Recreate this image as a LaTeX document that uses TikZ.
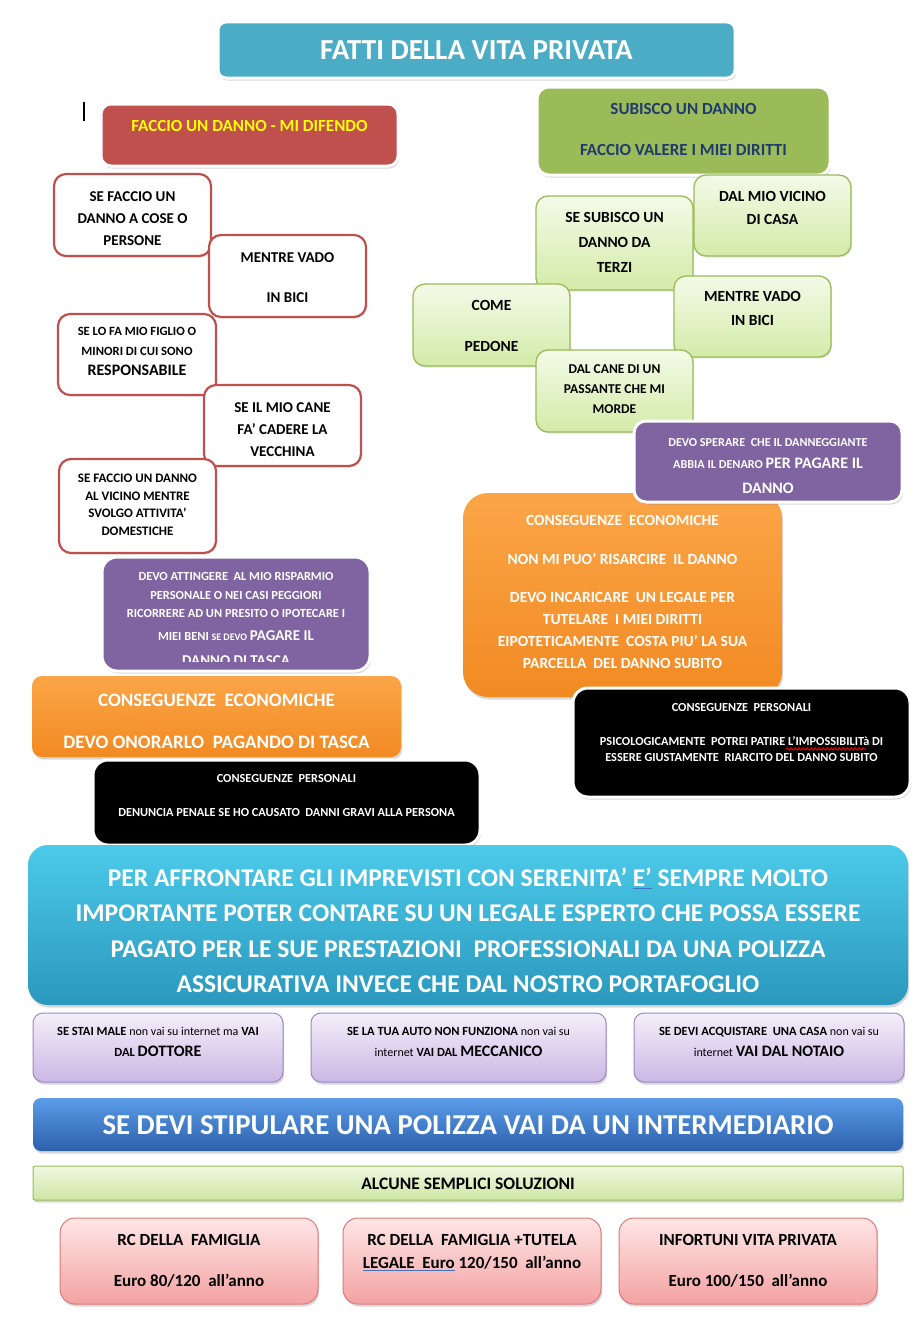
\documentclass[tikz,border=0pt]{standalone}
\usepackage{fontspec}
\setmainfont{Carlito}
\usetikzlibrary{shadows,decorations.pathmorphing}
\definecolor{tealT}{HTML}{4BACC6}
\definecolor{redH}{HTML}{C0504D}
\definecolor{greenH}{HTML}{9BBB59}
\definecolor{navyT}{HTML}{1F3B6E}
\definecolor{lgTop}{HTML}{F4FAE8}
\definecolor{lgBot}{HTML}{D3EBA8}
\definecolor{purp}{HTML}{8064A2}
\definecolor{orTop}{HTML}{FBA548}
\definecolor{orBot}{HTML}{F28A22}
\definecolor{cyTop}{HTML}{4CCAEA}
\definecolor{cyBot}{HTML}{2A98BC}
\definecolor{lvTop}{HTML}{F4EFFA}
\definecolor{lvBot}{HTML}{CBB7E5}
\definecolor{lvLine}{HTML}{9D88C2}
\definecolor{blTop}{HTML}{5A9CE8}
\definecolor{blBot}{HTML}{2D60AC}
\definecolor{gsTop}{HTML}{F1F8E3}
\definecolor{gsBot}{HTML}{CDE6A2}
\definecolor{pkTop}{HTML}{FFE6E6}
\definecolor{pkBot}{HTML}{F3A2A2}
\definecolor{pkLine}{HTML}{DB7B7A}
\definecolor{ulBlue}{HTML}{4472C4}
\definecolor{yelT}{HTML}{FFFF00}
\newcommand\fs[2]{\fontsize{#1}{#2}\selectfont}
\newcommand\mybox[6]{\node[#1,minimum width={#5-#3},minimum height={#6-#4}] (#2) at ({(#3+#5)/2},{(#4+#6)/2}) {};}
\newcommand\bluline[1]{\setbox0\hbox{#1}\rlap{\color{ulBlue}\rule[-2.5pt]{\wd0}{1.4pt}}#1}
\tikzset{
  shd/.style={drop shadow={opacity=0.3,shadow xshift=1.2pt,shadow yshift=-2.5pt}},
  lshd/.style={drop shadow={opacity=0.2,shadow xshift=1pt,shadow yshift=-1.5pt}},
  bx/.style={rectangle,rounded corners=#1,inner sep=0pt},
  bx/.default=12pt,
  wframe/.style={draw=white,line width=3pt,shd},
  redout/.style={bx,draw=redH,line width=2.2pt,fill=white,lshd},
  greenout/.style={bx,draw=greenH,line width=1.3pt,top color=lgTop,bottom color=lgBot,lshd},
  lav/.style={bx=10pt,top color=lvTop,bottom color=lvBot,draw=lvLine,line width=1pt,shd},
  pink/.style={bx=15pt,top color=pkTop,bottom color=pkBot,draw=pkLine,line width=1pt,shd},
  txt/.style n args={2}{inner sep=0pt,align=center,anchor=north,font={\fontsize{#1}{#2}\selectfont\bfseries}},
}
\begin{document}
\begin{tikzpicture}[x=1pt,y=-1pt]
\useasboundingbox (0,0) rectangle (922,1322);
\fill[white] (0,0) rectangle (922,1322);

% title
\mybox{bx=8pt,fill=tealT,wframe}{title}{218}{22}{735}{78}
\node[txt={29}{34},text=white] (titleT) at (476.5,40.7) {FATTI DELLA VITA PRIVATA};

% left header
\mybox{bx=10pt,fill=redH,wframe}{hdrL}{101}{104}{398}{166}
\node[txt={17}{20},text=yelT] (hdrLT) at (249.5,120.5) {FACCIO UN DANNO - MI DIFENDO};
\draw[line width=1.2pt] (84,102) -- (84,121);

% right header
\mybox{bx=12pt,fill=greenH,wframe}{hdrR}{537}{87}{830}{175}
\node[txt={17}{41},text=navyT] (hdrRT) at (683.5,103.5) {SUBISCO UN DANNO\\FACCIO VALERE I MIEI DIRITTI};

% left red boxes
\mybox{redout}{la}{54}{174}{211}{256}
\node[txt={15}{22}] (laT) at (132.5,191.2) {SE FACCIO UN\\DANNO A COSE O\\PERSONE};
\mybox{redout}{lb}{209}{235}{366}{317}
\node[txt={15}{40}] (lbT) at (287.5,252.2) {MENTRE VADO\\IN BICI};
\mybox{redout}{lc}{58}{314}{216}{395}
\node[txt={12.6}{20}] (lcT) at (137,326.9) {SE LO FA MIO FIGLIO O\\MINORI DI CUI SONO\\{\fs{16}{20}RESPONSABILE}};
\mybox{redout}{ld}{204}{385}{361}{466}
\node[txt={15}{22}] (ldT) at (282.5,402.2) {SE IL MIO CANE\\FA' CADERE LA\\VECCHINA};
\mybox{redout}{le}{59}{459}{216}{553}
\node[txt={13}{17.7}] (leT) at (137.5,473.8) {SE FACCIO UN DANNO\\AL VICINO MENTRE\\SVOLGO ATTIVITA'\\DOMESTICHE};

% right green boxes
\mybox{greenout}{rg}{536}{196}{693}{290}
\node[txt={15.5}{25}] (rgT) at (614.5,212) {SE SUBISCO UN\\DANNO DA\\TERZI};
\mybox{greenout}{rf}{694}{175}{851}{256}
\node[txt={15.5}{23}] (rfT) at (772.5,191) {DAL MIO VICINO\\DI CASA};
\mybox{greenout}{rh}{413}{284}{570}{366}
\node[txt={15.5}{41}] (rhT) at (491.5,300) {COME\\PEDONE};
\mybox{greenout}{ri}{674}{276}{831}{357}
\node[txt={15.5}{24}] (riT) at (752.5,291) {MENTRE VADO\\IN BICI};
\mybox{greenout}{rj}{536}{350}{693}{432}
\node[txt={13.5}{20}] (rjT) at (614.5,364.7) {DAL CANE DI UN\\PASSANTE CHE MI\\MORDE};

% right orange
\mybox{bx=25pt,top color=orTop,bottom color=orBot,shd}{orR}{463}{493}{782}{697}
\node[txt={15.5}{22},text=white] (orRT) at (622.5,515) {CONSEGUENZE\ \ ECONOMICHE\\[17pt]NON MI PUO' RISARCIRE\ \ IL DANNO\\[16pt]DEVO INCARICARE\ \ UN LEGALE PER\\TUTELARE\ \ I MIEI DIRITTI\\EIPOTETICAMENTE\ \ COSTA PIU' LA SUA\\PARCELLA\ \ DEL DANNO SUBITO};

% right purple
\mybox{bx=12pt,fill=purp,wframe}{puR}{634}{421}{902}{502}
\node[txt={12.2}{22},text=white] (puRT) at (768,438) {DEVO SPERARE\ \ CHE IL DANNEGGIANTE\\ABBIA IL DENARO\ {\fs{16}{22}PER PAGARE IL}\\[3pt]{\fs{16}{22}DANNO}};

% right black
\mybox{bx=15pt,fill=black,wframe}{blR}{573}{688}{910}{797}
\node[txt={12.3}{16},text=white] (blRT) at (741.5,703) {CONSEGUENZE\ \ PERSONALI\\[18pt]PSICOLOGICAMENTE\ \ POTREI PATIRE L'IMPOSSIBILITà DI\\ESSERE GIUSTAMENTE\ \ RIARCITO DEL DANNO SUBITO};
\draw[red,line width=0.7pt,decorate,decoration={snake,amplitude=1.3pt,segment length=4pt}] (786,749) -- (866,749);

% left purple
\mybox{bx=15pt,fill=purp,wframe}{puL}{102}{557}{370}{671}
\begin{scope}
\clip (102,557) rectangle (370,661);
\node[txt={12.4}{18.5},text=white] (puLT) at (236,572.5) {DEVO ATTINGERE\ \ AL MIO RISPARMIO\\PERSONALE O NEI CASI PEGGIORI\\RICORRERE AD UN PRESITO O IPOTECARE I\\[4pt]MIEI BENI {\fs{10}{18.5}SE DEVO} {\fs{15}{18.5}PAGARE IL}\\[6.5pt]{\fs{15}{18.5}DANNO DI TASCA}};
\end{scope}

% left orange
\mybox{bx=10pt,top color=orTop,bottom color=orBot,shd}{orL}{32}{676}{401}{757}
\node[txt={19}{42},text=white] (orLT) at (216.5,693.9) {CONSEGUENZE\ \ ECONOMICHE\\DEVO ONORARLO\ \ PAGANDO DI TASCA};

% left black
\mybox{bx=15pt,fill=black,wframe}{blL}{93}{760}{480}{845}
\node[txt={12.3}{34},text=white] (blLT) at (286.5,774) {CONSEGUENZE\ \ PERSONALI\\DENUNCIA PENALE SE HO CAUSATO\ \ DANNI GRAVI ALLA PERSONA};

% big cyan
\mybox{bx=20pt,top color=cyTop,bottom color=cyBot,shd}{cy}{28}{845}{908}{1005}
\node[txt={25.5}{35.3},text=white] (cyT) at (468,867.8) {PER AFFRONTARE GLI IMPREVISTI CON SERENITA' \bluline{E'} SEMPRE MOLTO\\IMPORTANTE POTER CONTARE SU UN LEGALE ESPERTO CHE POSSA ESSERE\\PAGATO PER LE SUE PRESTAZIONI\ \ PROFESSIONALI DA UNA POLIZZA\\ASSICURATIVA INVECE CHE DAL NOSTRO PORTAFOGLIO};

% lavender boxes
\mybox{lav}{lv1}{33}{1013}{283}{1082}
\node[txt={12.5}{21}] (lv1T) at (158,1027) {SE STAI MALE {\mdseries\fs{12}{21}non vai su internet ma} VAI\\DAL {\fs{16}{21}DOTTORE}};
\mybox{lav}{lv2}{311}{1013}{606}{1082}
\node[txt={12.5}{21}] (lv2T) at (458.5,1027) {SE LA TUA AUTO NON FUNZIONA {\mdseries\fs{12}{21}non vai su}\\{\mdseries\fs{12}{21}internet} VAI DAL {\fs{16}{21}MECCANICO}};
\mybox{lav}{lv3}{634}{1013}{904}{1082}
\node[txt={12.5}{21}] (lv3T) at (769,1027) {SE DEVI ACQUISTARE\ \ UNA CASA {\mdseries\fs{12}{21}non vai su}\\{\mdseries\fs{12}{21}internet} {\fs{16}{21}VAI DAL NOTAIO}};

% blue banner
\mybox{bx=8pt,top color=blTop,bottom color=blBot,shd}{bl}{33}{1098}{903}{1151}
\node[txt={28.8}{30},text=white] (blT) at (468,1115.7) {SE DEVI STIPULARE UNA POLIZZA VAI DA UN INTERMEDIARIO};

% green strip
\mybox{bx=2pt,top color=gsTop,bottom color=gsBot,draw=greenH,line width=1pt,shd}{gs}{33}{1166}{903}{1200}
\node[txt={17.5}{20}] (gsT) at (468,1177.4) {ALCUNE SEMPLICI SOLUZIONI};

% pink boxes
\mybox{pink}{pk1}{60}{1218}{318}{1304}
\node[txt={17}{41}] (pk1T) at (189,1234.5) {RC DELLA\ \ FAMIGLIA\\Euro 80/120\ \ all'anno};
\mybox{pink}{pk2}{343}{1218}{601}{1304}
\node[txt={17}{23}] (pk2T) at (472,1234.5) {RC DELLA\ \ FAMIGLIA +TUTELA\\\bluline{LEGALE\ \ Euro} 120/150\ \ all'anno};
\mybox{pink}{pk3}{619}{1218}{877}{1304}
\node[txt={17}{41}] (pk3T) at (748,1234.5) {INFORTUNI VITA PRIVATA\\Euro 100/150\ \ all'anno};
\end{tikzpicture}
\end{document}
